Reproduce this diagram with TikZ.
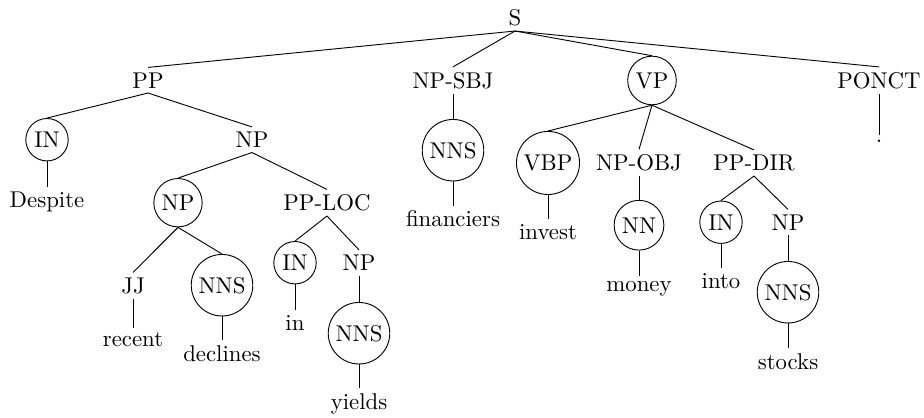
\documentclass[tikz,border=0pt]{standalone}
\usepackage{tikz}

\tikzset{
  lbl/.style={inner sep=2pt, anchor=base},
  circ/.style={lbl, draw, circle}
}

\begin{document}
\begin{tikzpicture}[x=0.015415cm, y=-0.015415cm]
  \useasboundingbox (0,0) rectangle (924,417);
  % Root and first level
  \node[lbl] (s) at (515,25.5) {S};
  \node[lbl] (pp) at (148,88) {PP};
  \node[lbl] (npsbj) at (453,88) {NP-SBJ};
  \node[circ] (vp) at (652,88) {VP};
  \node[lbl] (ponct) at (879,88) {PONCT};
  \node[lbl] (dot) at (879,142.7) {.};
  % Despite recent declines in yields
  \node[circ] (in1) at (47,147.5) {IN};
  \node[lbl] (w1) at (47,207.3) {Despite};
  \node[lbl] (np1) at (252,147.5) {NP};
  \node[circ] (np2) at (178,210.5) {NP};
  \node[lbl] (pploc) at (327,210.5) {PP-LOC};
  \node[lbl] (jj) at (133,293) {JJ};
  \node[lbl] (w2) at (133,346.7) {recent};
  \node[circ] (nns1) at (222,293) {NNS};
  \node[lbl] (w3) at (222,361) {declines};
  \node[circ] (in2) at (295,270.5) {IN};
  \node[lbl] (w4) at (295,330) {in};
  \node[lbl] (np3) at (359,270.5) {NP};
  \node[circ] (nns2) at (359,341) {NNS};
  \node[lbl] (w5) at (359,409.3) {yields};
  % financiers
  \node[circ] (nns3) at (453,158) {NNS};
  \node[lbl] (w6) at (453,226.7) {financiers};
  % invest money into stocks
  \node[circ] (vbp) at (548,170.5) {VBP};
  \node[lbl] (w7) at (548,239.3) {invest};
  \node[lbl] (npobj) at (639,170.5) {NP-OBJ};
  \node[circ] (nn) at (639,233) {NN};
  \node[lbl] (w8) at (639,291.5) {money};
  \node[lbl] (ppdir) at (754,170.5) {PP-DIR};
  \node[circ] (in3) at (721,230) {IN};
  \node[lbl] (w9) at (721,288.3) {into};
  \node[lbl] (np4) at (788,230) {NP};
  \node[circ] (nns4) at (788,300) {NNS};
  \node[lbl] (w10) at (788,369.3) {stocks};
  % Edges
  \foreach \p/\c in {s/pp, s/npsbj, s/vp, s/ponct, ponct/dot,
      pp/in1, in1/w1, pp/np1, np1/np2, np1/pploc, np2/jj, jj/w2,
      np2/nns1, nns1/w3, pploc/in2, in2/w4, pploc/np3, np3/nns2, nns2/w5,
      npsbj/nns3, nns3/w6,
      vp/vbp, vbp/w7, vp/npobj, npobj/nn, nn/w8, vp/ppdir,
      ppdir/in3, in3/w9, ppdir/np4, np4/nns4, nns4/w10}
    \draw (\p.south) -- (\c.north);
\end{tikzpicture}
\end{document}
